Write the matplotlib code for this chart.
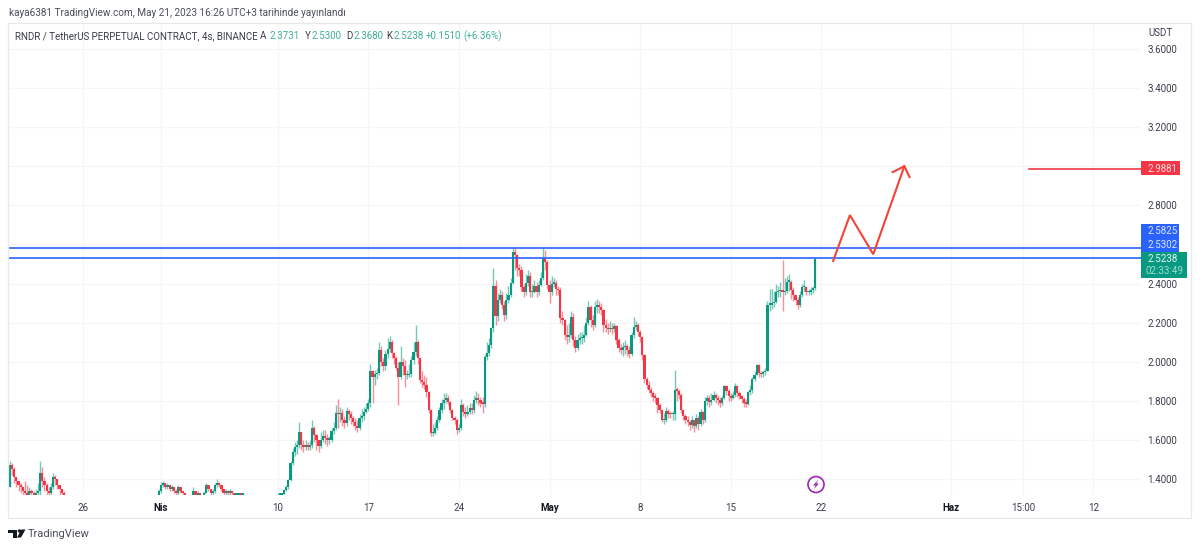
import numpy as np
import matplotlib
matplotlib.use("Agg")
import matplotlib.pyplot as plt
from matplotlib.patches import Rectangle, Polygon, Circle

plt.rcParams['font.family'] = ['Roboto', 'DejaVu Sans']

UP = "#089981"
DOWN = "#F23645"
ARROW = "#F44336"
BLUE = "#2962FF"
TEXT = "#131722"
GRID = "#F5F6FA"

# x axis is in days from 1 April, one candle every 4 hours
start_open = 1.36
march_start = -11.667
march_close = [1.47, 1.45, 1.41, 1.39, 1.37, 1.36, 1.34, 1.33, 1.32, 1.34,
               1.33, 1.32, 1.33, 1.34, 1.43, 1.39, 1.37, 1.34, 1.33, 1.36,
               1.41, 1.40, 1.37, 1.35, 1.33, 1.32]
march_high = [1.49, 1.48, 1.46, 1.41, 1.39, 1.38, 1.36, 1.39, 1.37, 1.36,
              1.35, 1.34, 1.35, 1.38, 1.49, 1.46, 1.41, 1.38, 1.36, 1.38,
              1.43, 1.42, 1.40, 1.37, 1.35, 1.34]
march_low = [1.36, 1.42, 1.38, 1.36, 1.34, 1.33, 1.31, 1.31, 1.30, 1.31,
             1.31, 1.30, 1.31, 1.31, 1.32, 1.36, 1.34, 1.31, 1.31, 1.32,
             1.35, 1.37, 1.35, 1.32, 1.31, 1.30]

april_start = -0.167
april_open = 1.30
april_close = [1.34, 1.37, 1.38, 1.36, 1.37, 1.35, 1.36, 1.34, 1.33, 1.36,
               1.34, 1.33, 1.32, 1.30, 1.30, 1.30, 1.34, 1.32, 1.33, 1.31,
               1.30, 1.33, 1.37, 1.35, 1.33, 1.34, 1.37, 1.38, 1.37, 1.35,
               1.33, 1.34, 1.33, 1.34, 1.33, 1.32, 1.32, 1.325, 1.32, 1.322]
april_high = [1.35, 1.385, 1.39, 1.38, 1.38, 1.37, 1.37, 1.36, 1.35, 1.37,
              1.36, 1.34, 1.33, 1.31, 1.31, 1.31, 1.36, 1.34, 1.34, 1.33,
              1.31, 1.34, 1.38, 1.37, 1.35, 1.35, 1.38, 1.40, 1.385, 1.36,
              1.35, 1.35, 1.345, 1.35, 1.34, 1.33, 1.33, 1.33, 1.33, 1.33]
april_low = [1.30, 1.33, 1.36, 1.35, 1.35, 1.34, 1.34, 1.33, 1.32, 1.32,
             1.33, 1.32, 1.31, 1.29, 1.29, 1.29, 1.30, 1.31, 1.31, 1.30,
             1.29, 1.30, 1.33, 1.34, 1.32, 1.32, 1.33, 1.36, 1.36, 1.34,
             1.32, 1.32, 1.32, 1.32, 1.32, 1.31, 1.31, 1.31, 1.31, 1.31]

rally_open = 1.30
rally_close = [1.32, 1.32, 1.325, 1.345, 1.36, 1.395, 1.48, 1.54, 1.565, 1.575,
               1.64, 1.575, 1.565, 1.57, 1.565, 1.575, 1.66, 1.625, 1.60, 1.57,
               1.60, 1.62, 1.61, 1.60, 1.60, 1.645, 1.66, 1.74, 1.73, 1.74,
               1.70, 1.685, 1.75, 1.735, 1.71, 1.69, 1.67, 1.66, 1.71, 1.72,
               1.745, 1.76, 1.79, 1.95, 1.92, 1.935, 1.94, 2.06, 2.00, 1.98,
               2.04, 2.065, 2.10, 2.045, 2.02, 1.97, 1.92, 2.00, 1.98, 1.93,
               1.93, 1.935, 2.01, 2.05, 2.10, 2.02, 1.905, 1.895, 1.88, 1.845,
               1.755, 1.635, 1.635, 1.66, 1.70, 1.755, 1.79, 1.805, 1.815, 1.795,
               1.755, 1.71, 1.70, 1.65, 1.66, 1.78, 1.745, 1.73, 1.745, 1.765,
               1.755, 1.805, 1.815, 1.805, 1.79, 1.785, 2.025, 2.045, 2.085, 2.17,
               2.39, 2.235, 2.315, 2.34, 2.29, 2.24, 2.315, 2.34, 2.405, 2.56,
               2.545, 2.48, 2.47, 2.38, 2.355, 2.405, 2.44, 2.355, 2.355, 2.39,
               2.355, 2.395, 2.43, 2.53, 2.51, 2.395, 2.355, 2.40, 2.405, 2.37,
               2.365, 2.225, 2.215, 2.135, 2.125, 2.135, 2.23, 2.11, 2.07, 2.11,
               2.12, 2.12, 2.135, 2.20, 2.28, 2.215, 2.19, 2.28, 2.285, 2.28,
               2.265, 2.19, 2.175, 2.165, 2.175, 2.165, 2.185, 2.11, 2.07, 2.06,
               2.075, 2.08, 2.06, 2.04, 2.135, 2.18, 2.19, 2.15, 2.125, 2.035,
               1.91, 1.88, 1.855, 1.84, 1.82, 1.815, 1.78, 1.755, 1.70, 1.70,
               1.75, 1.735, 1.73, 1.73, 1.855, 1.85, 1.83, 1.755, 1.72, 1.70,
               1.69, 1.675, 1.70, 1.67, 1.71, 1.68, 1.745, 1.70, 1.80, 1.815,
               1.795, 1.805, 1.83, 1.815, 1.805, 1.79, 1.815, 1.875, 1.85, 1.825,
               1.815, 1.83, 1.875, 1.84, 1.825, 1.81, 1.79, 1.785, 1.845, 1.855,
               1.91, 1.93, 1.985, 1.94, 1.935, 1.945, 1.955, 2.29, 2.29, 2.30,
               2.305, 2.355, 2.36, 2.365, 2.355, 2.36, 2.41, 2.41, 2.365, 2.34,
               2.315, 2.29, 2.34, 2.38, 2.38, 2.355, 2.355, 2.365, 2.375, 2.5238]
rally_high = [1.33, 1.33, 1.33, 1.35, 1.37, 1.40, 1.49, 1.56, 1.59, 1.60,
              1.69, 1.64, 1.60, 1.60, 1.59, 1.60, 1.70, 1.67, 1.63, 1.60,
              1.64, 1.65, 1.65, 1.63, 1.62, 1.66, 1.69, 1.78, 1.81, 1.77,
              1.76, 1.72, 1.77, 1.76, 1.75, 1.72, 1.71, 1.70, 1.73, 1.76,
              1.77, 1.79, 1.81, 1.99, 1.96, 1.96, 1.97, 2.10, 2.08, 2.02,
              2.06, 2.12, 2.13, 2.11, 2.05, 2.03, 2.00, 2.08, 2.02, 2.01,
              1.96, 1.99, 2.03, 2.10, 2.19, 2.11, 2.02, 1.95, 1.93, 1.92,
              1.85, 1.76, 1.68, 1.69, 1.72, 1.77, 1.81, 1.84, 1.84, 1.83,
              1.80, 1.76, 1.72, 1.71, 1.68, 1.81, 1.79, 1.77, 1.78, 1.79,
              1.79, 1.83, 1.85, 1.84, 1.82, 1.82, 2.04, 2.10, 2.12, 2.18,
              2.48, 2.42, 2.35, 2.37, 2.36, 2.31, 2.35, 2.39, 2.43, 2.58,
              2.58, 2.55, 2.50, 2.49, 2.40, 2.45, 2.47, 2.46, 2.40, 2.42,
              2.41, 2.42, 2.46, 2.58, 2.57, 2.52, 2.42, 2.44, 2.43, 2.42,
              2.39, 2.38, 2.26, 2.22, 2.19, 2.20, 2.26, 2.25, 2.13, 2.14,
              2.15, 2.15, 2.19, 2.23, 2.31, 2.29, 2.24, 2.31, 2.32, 2.31,
              2.30, 2.27, 2.22, 2.20, 2.21, 2.20, 2.20, 2.19, 2.12, 2.09,
              2.10, 2.11, 2.09, 2.08, 2.15, 2.23, 2.21, 2.20, 2.16, 2.13,
              2.04, 1.92, 1.90, 1.87, 1.85, 1.84, 1.82, 1.79, 1.76, 1.74,
              1.77, 1.76, 1.75, 1.75, 1.96, 1.87, 1.86, 1.84, 1.76, 1.73,
              1.72, 1.70, 1.72, 1.70, 1.73, 1.72, 1.76, 1.75, 1.82, 1.83,
              1.83, 1.84, 1.85, 1.84, 1.83, 1.82, 1.83, 1.88, 1.88, 1.86,
              1.84, 1.85, 1.89, 1.88, 1.85, 1.83, 1.82, 1.81, 1.85, 1.88,
              1.92, 1.95, 1.99, 1.99, 1.95, 1.96, 1.97, 2.31, 2.37, 2.37,
              2.36, 2.40, 2.39, 2.41, 2.52, 2.43, 2.44, 2.45, 2.42, 2.38,
              2.34, 2.33, 2.36, 2.40, 2.42, 2.39, 2.37, 2.38, 2.39, 2.5300]
rally_low = [1.31, 1.31, 1.31, 1.32, 1.34, 1.35, 1.39, 1.47, 1.52, 1.53,
             1.56, 1.55, 1.54, 1.55, 1.55, 1.55, 1.56, 1.59, 1.55, 1.54,
             1.56, 1.59, 1.58, 1.57, 1.58, 1.59, 1.63, 1.65, 1.66, 1.69,
             1.67, 1.66, 1.67, 1.70, 1.68, 1.67, 1.65, 1.64, 1.65, 1.69,
             1.70, 1.74, 1.75, 1.77, 1.79, 1.88, 1.91, 1.93, 1.98, 1.95,
             1.96, 2.02, 2.05, 2.02, 1.99, 1.96, 1.78, 1.91, 1.93, 1.87,
             1.91, 1.92, 1.92, 1.99, 2.03, 1.99, 1.89, 1.87, 1.86, 1.82,
             1.74, 1.62, 1.62, 1.63, 1.65, 1.69, 1.74, 1.76, 1.79, 1.78,
             1.74, 1.70, 1.68, 1.63, 1.64, 1.65, 1.72, 1.71, 1.72, 1.73,
             1.73, 1.74, 1.79, 1.78, 1.77, 1.74, 1.77, 2.01, 2.03, 2.07,
             2.15, 2.19, 2.21, 2.30, 2.27, 2.21, 2.22, 2.30, 2.33, 2.40,
             2.47, 2.44, 2.44, 2.36, 2.33, 2.34, 2.39, 2.33, 2.33, 2.35,
             2.33, 2.34, 2.39, 2.42, 2.47, 2.37, 2.30, 2.34, 2.38, 2.34,
             2.34, 2.20, 2.19, 2.11, 2.09, 2.10, 2.12, 2.08, 2.05, 2.06,
             2.09, 2.09, 2.10, 2.13, 2.19, 2.18, 2.16, 2.18, 2.25, 2.25,
             2.24, 2.15, 2.15, 2.14, 2.15, 2.14, 2.15, 2.09, 2.05, 2.04,
             2.03, 2.04, 2.03, 2.02, 2.03, 2.12, 2.16, 2.13, 2.10, 2.01,
             1.89, 1.86, 1.84, 1.82, 1.80, 1.79, 1.74, 1.74, 1.69, 1.68,
             1.69, 1.71, 1.71, 1.70, 1.70, 1.80, 1.81, 1.74, 1.70, 1.68,
             1.67, 1.65, 1.66, 1.64, 1.66, 1.65, 1.67, 1.68, 1.69, 1.78,
             1.77, 1.78, 1.80, 1.79, 1.78, 1.77, 1.78, 1.81, 1.83, 1.80,
             1.80, 1.81, 1.82, 1.82, 1.81, 1.79, 1.77, 1.77, 1.78, 1.83,
             1.84, 1.90, 1.93, 1.92, 1.92, 1.92, 1.93, 1.95, 2.26, 2.27,
             2.28, 2.30, 2.33, 2.33, 2.26, 2.34, 2.35, 2.36, 2.32, 2.31,
             2.29, 2.27, 2.28, 2.33, 2.36, 2.34, 2.34, 2.34, 2.35, 2.3680]
last_candle_day = 50.5

price_ticks = [3.6, 3.4, 3.2, 3.0, 2.8, 2.6, 2.4, 2.2, 2.0, 1.8, 1.6, 1.4]
time_ticks = [-6, 0, 9, 16, 23, 30, 37, 44, 51, 61, 66.6, 72]
time_labels = ["26", "Nis", "10", "17", "24", "May", "8", "15", "22", "Haz", "15:00", "12"]
bold_labels = ["Nis", "May", "Haz"]

resistance_levels = [2.5825, 2.5302]
target_level = 2.9881
target_start_day = 67.0
path_days = [51.9, 53.2, 55.0, 57.4]
path_prices = [2.515, 2.75, 2.55, 3.0]
head_days = [56.5, 57.4, 57.8]
head_prices = [2.97, 3.0, 2.945]


def draw_candles(ax, first_day, first_open, closes, highs, lows):
    closes = np.array(closes)
    opens = np.concatenate([[first_open], closes[:-1]])
    days = first_day + np.arange(len(closes)) / 6
    colors = [UP if c >= o else DOWN for o, c in zip(opens, closes)]
    ax.vlines(days, lows, highs, colors=colors, linewidth=1.0, alpha=0.55, zorder=3)
    bottoms = np.minimum(opens, closes)
    heights = np.maximum(np.abs(closes - opens), 0.008)
    ax.bar(days, heights, bottom=bottoms, width=0.17, color=colors, linewidth=0, zorder=4)


W, H = 1200, 548
fig = plt.figure(figsize=(12, 5.48), dpi=100)
fig.patch.set_facecolor("white")

# pane in pixels: x 8-1141, y 24-495
ax = fig.add_axes([8 / W, 1 - 495 / H, (1141 - 8) / W, (495 - 24) / H])
ax.set_xlim((8 - 161) / 12.95, (1141 - 161) / 12.95)
ax.set_ylim(1.4 - 16 / 195.45, 3.6 + 25 / 195.45)
for s in ax.spines.values():
    s.set_visible(False)

ax.set_yticks(price_ticks)
ax.set_yticklabels(["%.4f" % p for p in price_ticks])
ax.yaxis.tick_right()
ax.tick_params(axis="y", length=0, pad=4.5, labelsize=7, labelcolor="#3a3e4a")
ax.set_xticks(time_ticks)
ax.set_xticklabels(time_labels)
ax.tick_params(axis="x", length=0, pad=6, labelsize=7, labelcolor="#3a3e4a")
for lab in ax.get_xticklabels():
    if lab.get_text() in bold_labels:
        lab.set_fontweight("bold")
        lab.set_color(TEXT)
ax.grid(color=GRID, linewidth=0.9)
ax.set_axisbelow(True)

draw_candles(ax, march_start, start_open, march_close, march_high, march_low)
draw_candles(ax, april_start, april_open, april_close, april_high, april_low)
rally_start = last_candle_day - (len(rally_close) - 1) / 6
draw_candles(ax, rally_start, rally_open, rally_close, rally_high, rally_low)

for level in resistance_levels:
    ax.axhline(level, color=BLUE, linewidth=1.4, alpha=0.85, zorder=5)
ax.plot([target_start_day, ax.get_xlim()[1]], [target_level, target_level],
        color=DOWN, linewidth=1.2, zorder=5)
ax.plot(path_days, path_prices, color=ARROW, linewidth=1.5, zorder=6, solid_joinstyle="miter")
ax.plot(head_days, head_prices, color=ARROW, linewidth=1.5, zorder=6, solid_joinstyle="miter")

# everything outside the plotting pane goes on a pixel overlay
ov = fig.add_axes([0, 0, 1, 1], facecolor="none")
ov.set_xlim(0, W)
ov.set_ylim(H, 0)
ov.axis("off")

border = "#E6E8EE"
ov.plot([8, 8, 1191, 1191, 8], [23, 518, 518, 23, 23], color=border, linewidth=0.9)

ov.text(9, 13, "kaya6381 TradingView.com, May 21, 2023 16:26 UTC+3 tarihinde yayınlandı",
        fontsize=7.17, color="#4a4e5a", va="center")
ov.text(15, 36, "RNDR / TetherUS PERPETUAL CONTRACT, 4s, BINANCE", fontsize=7.05,
        color="#3a3e4a", va="center")
legend_letters = [("A", 260), ("Y", 305), ("D", 346), ("K", 386)]
legend_values = [("2.3731", 269), ("2.5300", 312), ("2.3680", 353), ("2.5238", 393),
                 ("+0.1510", 426), ("(+6.36%)", 463)]
for s, x in legend_letters:
    ov.text(x, 36, s, fontsize=7, color="#3a3e4a", va="center")
for s, x in legend_values:
    ov.text(x, 36, s, fontsize=7, color="#3fae9a", va="center")
ov.text(1148, 33, "USDT", fontsize=7, color="#3a3e4a", va="center")

ov.add_patch(Rectangle((1141, 161), 39, 14, facecolor=DOWN, edgecolor="none", zorder=5))
ov.text(1147, 168.5, "2.9881", fontsize=7, color="#ffd9dc", va="center", zorder=6)
ov.add_patch(Rectangle((1141, 224), 38, 29, facecolor=BLUE, edgecolor="none", zorder=5))
ov.text(1147, 231.5, "2.5825", fontsize=7, color="#dbe4ff", va="center", zorder=6)
ov.text(1147, 245, "2.5302", fontsize=7, color="#dbe4ff", va="center", zorder=6)
ov.add_patch(Rectangle((1141, 252), 46, 26, facecolor=UP, edgecolor="none", zorder=5))
ov.text(1147, 259, "2.5238", fontsize=7, color="#e6f7f3", va="center", zorder=6)
ov.text(1146, 271, "02:33:49", fontsize=7, color="#9fdccf", va="center", zorder=6)

# publish marker
ov.add_patch(Circle((816, 484.5), 8, facecolor="white", edgecolor="#9C27B0", linewidth=1.2, zorder=6))
ov.add_patch(Polygon([(818.5, 479.5), (813, 485.5), (815.7, 485.5), (813.5, 489.5), (819, 483.5), (816.3, 483.5)],
                     facecolor="#9C27B0", edgecolor="none", zorder=7))

# TradingView logo
ov.add_patch(Polygon([(8, 529.5), (17, 529.5), (17, 537.5), (13, 537.5), (13, 533), (8, 533)],
                     facecolor="#131722", edgecolor="none"))
ov.add_patch(Circle((19.5, 531), 1.7, facecolor="#131722", edgecolor="none"))
ov.add_patch(Polygon([(21.5, 529.5), (25.5, 529.5), (21, 537.5), (17, 537.5)],
                     facecolor="#131722", edgecolor="none"))
ov.text(28, 534, "TradingView", fontsize=8, color="#4a4e5a", va="center")

fig.savefig("out.png", dpi=100)
